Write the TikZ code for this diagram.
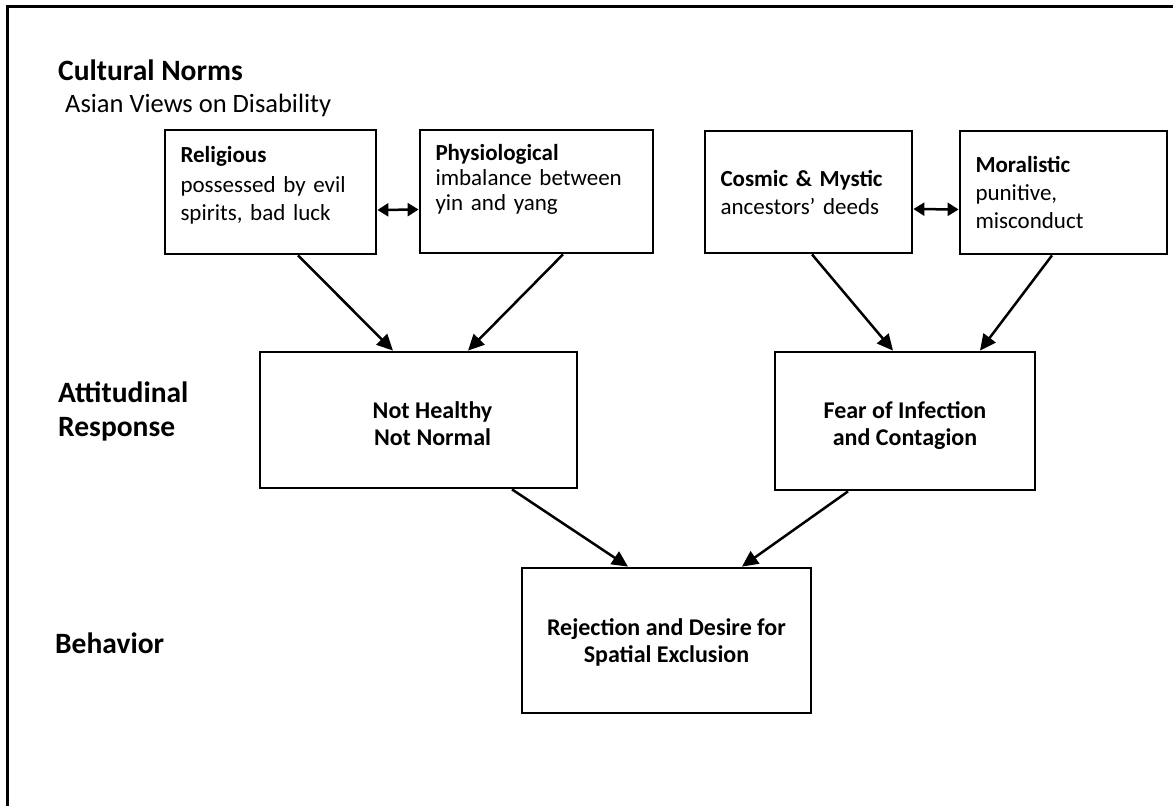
\documentclass[tikz,border=0pt]{standalone}
\usepackage{fontspec}
\setmainfont{Carlito}
\usetikzlibrary{arrows.meta,positioning,calc}
\newcommand{\boxfont}{\fontsize{23}{28}\selectfont}
\newcommand{\midfont}{\fontsize{24}{27}\selectfont\bfseries}
\newcommand{\headfont}{\fontsize{29.5}{34}\selectfont\bfseries}
\newcommand{\subfont}{\fontsize{26.5}{30}\selectfont}
\tikzset{
  frameln/.style={line width=2.6pt},
  boxnode/.style={draw, line width=2.8pt, inner sep=0pt, font=\boxfont},
  topbox/.style={boxnode, align=left, inner xsep=15.5pt},
  midbox/.style={boxnode, align=center, font=\midfont, text height=43pt, text depth=0pt},
  linkln/.style={-{Triangle[length=16pt,width=15pt]}, line width=2.5pt},
  twoway/.style={{Triangle[length=11pt,width=13pt]}-{Triangle[length=11pt,width=13pt]}, line width=2.5pt},
  heading/.style={anchor=base west, inner sep=0pt, font=\headfont},
}

\begin{document}
\begin{tikzpicture}[x=1pt,y=-1pt]
    \useasboundingbox (0,0) rectangle (1173,806);
    % open frame (top and left edges only)
    \draw[frameln] (1173,6.5) -- (7.5,6.5) -- (7.5,806);
    % level labels
    \node[heading] (norms) at (58,80) {Cultural Norms};
    \node[anchor=base west, inner sep=0pt, font=\subfont] (views) at (65,112) {Asian Views on Disability};
    \node[heading, align=left] (attit) at (58,436) {Attitudinal\\Response};
    \node[heading] (behav) at (55,653) {Behavior};
    % cultural norm boxes
    \node[topbox, minimum width=211pt, minimum height=124pt, text width=180pt] (relig) at (270.5,192)
      {\textbf{Religious}\\[2pt]possessed by evil\\spirits, bad luck\\[-10pt]\mbox{}};
    \node[topbox, minimum width=233pt, minimum height=123pt, text width=202pt] (physio) at (536.5,191.5)
      {\textbf{Physiological}\\[-3pt]imbalance between\\[-3pt]yin and yang\\[0pt]\mbox{}};
    \node[topbox, minimum width=207pt, minimum height=122pt, text width=176pt] (cosmic) at (808.5,192)
      {\textbf{Cosmic \& Mystic}\\ancestors’ deeds};
    \node[topbox, minimum width=207pt, minimum height=123pt, text width=176pt] (moral) at (1063.5,192.5)
      {\textbf{Moralistic}\\punitive,\\misconduct};
    % attitudes and behaviour
    \node[midbox, minimum width=317pt, minimum height=136pt, text height=50pt] (nothealthy) at (418.5,420)
      {\hspace*{28pt}Not Healthy\\\hspace*{28pt}Not Normal};
    \node[midbox, minimum width=260pt, minimum height=138pt, text height=48pt] (fear) at (905,421) {Fear of Infection\\and Contagion};
    \node[midbox, minimum width=289pt, minimum height=145pt] (reject) at (666.5,640.5) {Rejection and Desire for\\Spatial Exclusion};
    % two-way links
    \draw[twoway] ([yshift=-18pt]relig.east) -- ([yshift=-18pt]physio.west);
    \draw[twoway] ([yshift=-17pt]cosmic.east) -- ([yshift=-17pt]moral.west);
    % arrows down
    \draw[linkln] ([xshift=27.5pt]relig.south) -- ([xshift=-25.5pt]nothealthy.north);
    \draw[linkln] ([xshift=26.5pt]physio.south) -- ([xshift=49.5pt]nothealthy.north);
    \draw[linkln] ([xshift=3.5pt]cosmic.south) -- ([xshift=-12pt]fear.north);
    \draw[linkln] ([xshift=-11.5pt]moral.south) -- ([xshift=75pt]fear.north);
    \draw[linkln] ([xshift=93.5pt]nothealthy.south) -- ([xshift=-38.5pt]reject.north);
    \draw[linkln] ([xshift=-57pt]fear.south) -- ([xshift=75.5pt]reject.north);
\end{tikzpicture}
\end{document}
